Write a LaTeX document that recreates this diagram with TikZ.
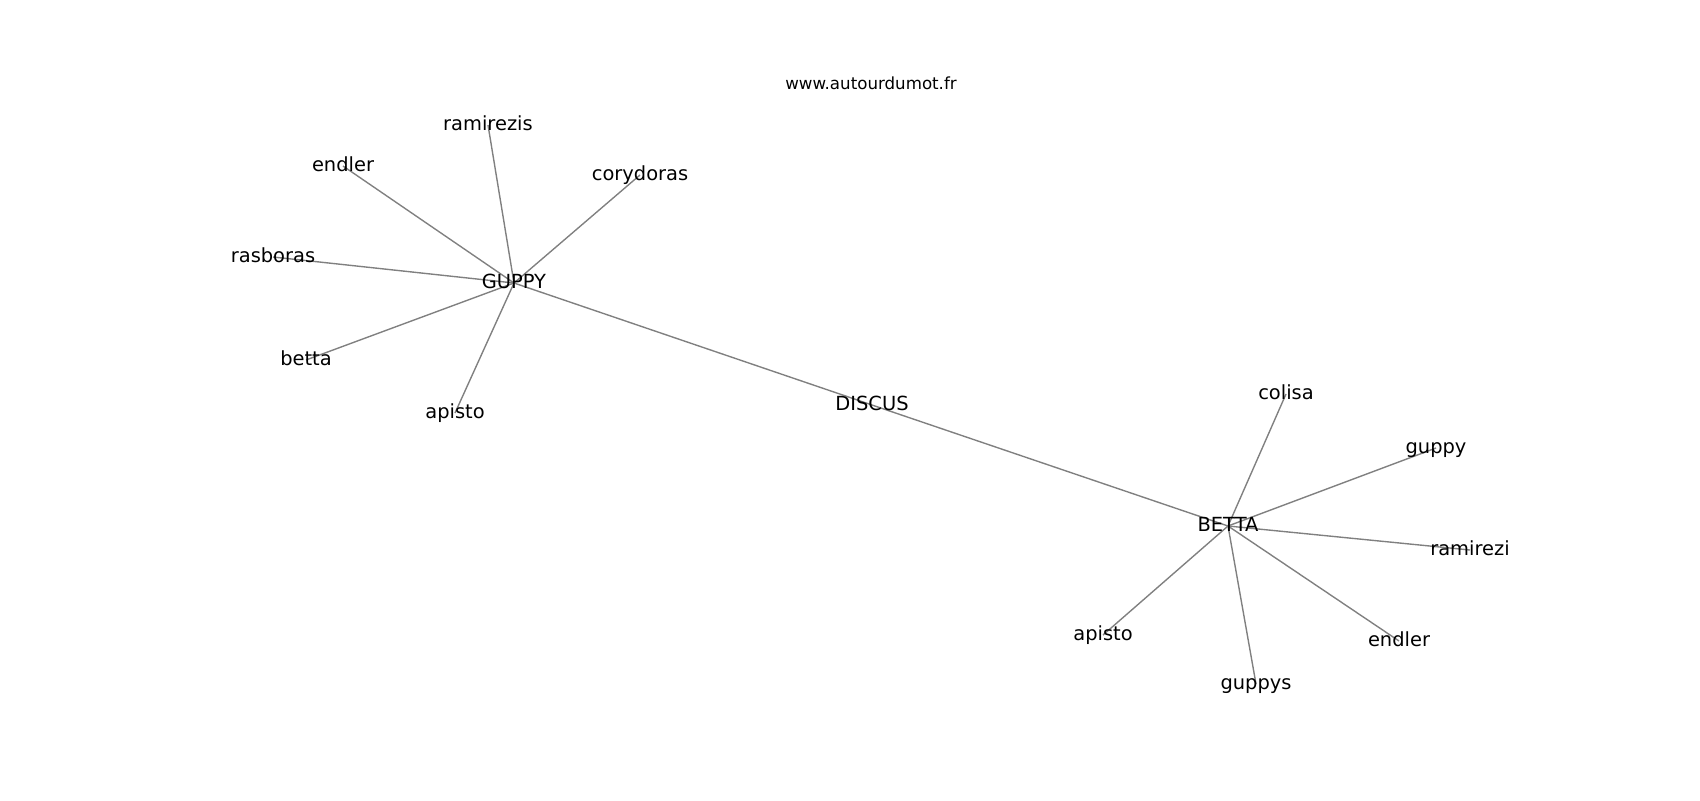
\documentclass[tikz,border=0pt]{standalone}
\usepackage{fontspec}
\setmainfont{DejaVu Sans}
\usetikzlibrary{backgrounds}
\begin{document}
\begin{tikzpicture}[x=0.72pt,y=-0.72pt,
  lbl/.style={inner sep=0pt,outer sep=0pt,font=\fontsize{14}{17}\selectfont,
    text height=0.86em,text depth=0.12em,anchor=center},
  ttl/.style={inner sep=0pt,font=\fontsize{12}{14}\selectfont,anchor=base},
  edge/.style={draw=black!50,line width=1pt}]
\useasboundingbox (0,0) rectangle (1700,800);
\node[ttl] (title) at (871,89) {www.autourdumot.fr};
% hubs
\node[lbl] (guppyH) at (514,283) {GUPPY};
\node[lbl] (discus) at (872,405) {DISCUS};
\node[lbl] (bettaH) at (1228,526) {BETTA};
% GUPPY leaves
\node[lbl] (ramirezis) at (488,125) {ramirezis};
\node[lbl] (endlerL) at (343,166) {endler};
\node[lbl] (corydoras) at (640,175) {corydoras};
\node[lbl] (rasboras) at (273,257) {rasboras};
\node[lbl] (bettaL) at (306,360) {betta};
\node[lbl] (apistoL) at (455,413) {apisto};
% BETTA leaves
\node[lbl] (colisa) at (1286,394) {colisa};
\node[lbl] (guppyL) at (1436,448) {guppy};
\node[lbl] (ramirezi) at (1470,550) {ramirezi};
\node[lbl] (endlerR) at (1399,641) {endler};
\node[lbl] (guppys) at (1256,684) {guppys};
\node[lbl] (apistoR) at (1103,635) {apisto};
\begin{pgfonlayer}{background}
\foreach \n in {ramirezis,endlerL,corydoras,rasboras,bettaL,apistoL,discus}
  \draw[edge] (guppyH.center) -- (\n.center);
\foreach \n in {colisa,guppyL,ramirezi,endlerR,guppys,apistoR,discus}
  \draw[edge] (bettaH.center) -- (\n.center);
\end{pgfonlayer}
\end{tikzpicture}
\end{document}
